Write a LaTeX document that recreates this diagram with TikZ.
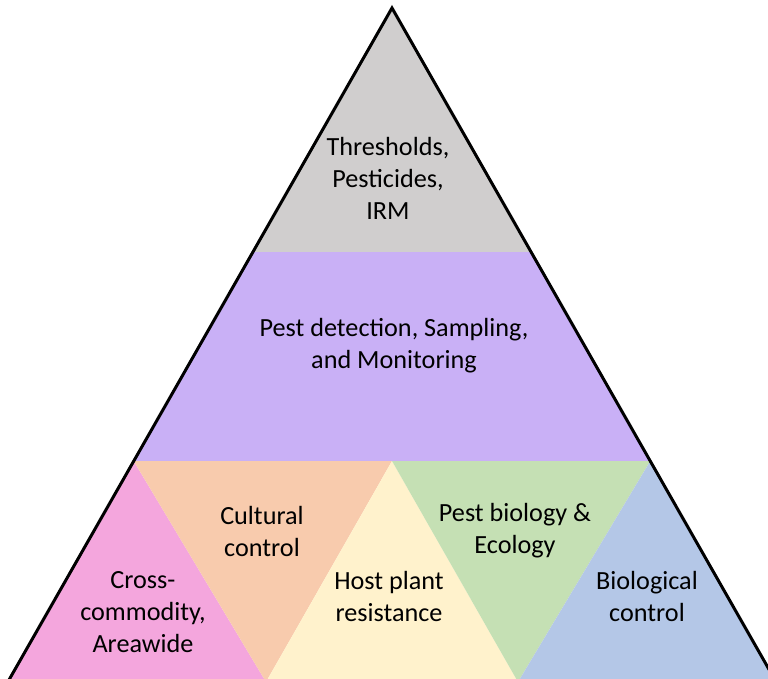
\documentclass[tikz,border=0pt]{standalone}
\usepackage{fontspec}
\setmainfont{Carlito}
\definecolor{cgray}{HTML}{D0CECE}
\definecolor{cpurple}{HTML}{C9B0F6}
\definecolor{cpink}{HTML}{F4A6DD}
\definecolor{corange}{HTML}{F8CBAD}
\definecolor{cyellow}{HTML}{FFF2CC}
\definecolor{cgreen}{HTML}{C5E0B4}
\definecolor{cblue}{HTML}{B4C7E7}
\begin{document}
\begin{tikzpicture}[x=1pt,y=-1pt,
  lbl/.style={align=center, font=\fontsize{26.2}{32}\selectfont, inner sep=0pt, text=black}]
\useasboundingbox (0,0) rectangle (768,678);
% corners
\coordinate (A) at (392,8);
\coordinate (L) at (7.8,682);
\coordinate (R) at (776.2,682);
\coordinate (ML1) at (252.9,252);
\coordinate (MR1) at (531.1,252);
\coordinate (ML2) at (133.7,461);
\coordinate (MR2) at (650.3,461);
\coordinate (MC) at (392,461);
\coordinate (B1) at (266,682);
\coordinate (B2) at (518,682);
% fills
\fill[cgray] (A) -- (MR1) -- (ML1) -- cycle;
\fill[cpurple] (ML1) -- (MR1) -- (MR2) -- (ML2) -- cycle;
\fill[cpink] (ML2) -- (B1) -- (L) -- cycle;
\fill[corange] (ML2) -- (MC) -- (B1) -- cycle;
\fill[cyellow] (MC) -- (B2) -- (B1) -- cycle;
\fill[cgreen] (MC) -- (MR2) -- (B2) -- cycle;
\fill[cblue] (MR2) -- (R) -- (B2) -- cycle;
% outline
\draw[line width=3pt, line join=miter] (A) -- (R) -- (L) -- cycle;
% labels
\node[lbl] (t1) at (388,178) {Thresholds,\\Pesticides,\\IRM};
\node[lbl] (t2) at (394,346) {Pest detection, Sampling,\\and Monitoring};
\node[lbl] (t3) at (262,531) {Cultural\\control};
\node[lbl] (t4) at (515,531) {Pest biology \&\\Ecology};
\node[lbl] (t5) at (143,612) {Cross-\\commodity,\\Areawide};
\node[lbl] (t6) at (389,596) {Host plant\\resistance};
\node[lbl] (t7) at (647,596) {Biological\\control};
\end{tikzpicture}
\end{document}
